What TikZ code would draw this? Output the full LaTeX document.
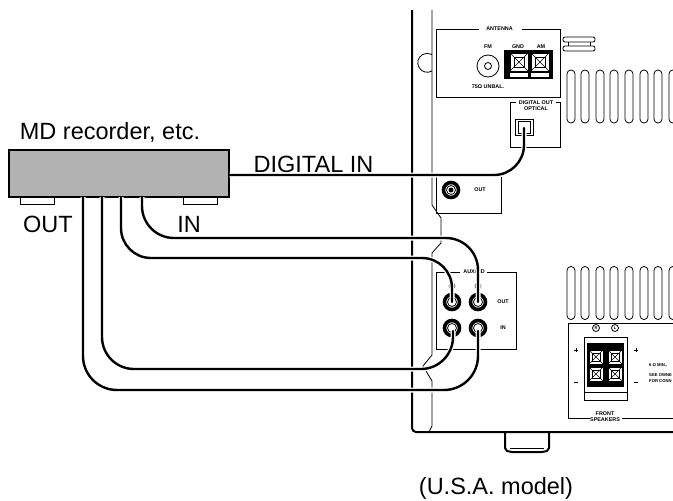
\documentclass[tikz,border=0pt]{standalone}
\usepackage{fontspec}
\setmainfont{Liberation Sans}
\tikzset{
	biglabel/.style={font=\fontsize{23.5}{26}\selectfont,inner sep=0pt,anchor=base},
	tinylabel/.style={font=\fontsize{5.4}{6}\selectfont\bfseries,inner sep=0pt,align=center},
	panel/.style={line width=0.8pt},
	cable/.style={line width=2.4pt,rounded corners=#1,line cap=round,
			preaction={draw=white,line width=5pt}},
	jack/.style={circle,draw=black,line width=3.6pt,fill=white,minimum size=15pt,inner sep=0pt},
	jackring/.style={circle,draw=black,line width=0.8pt,fill=white,minimum size=9pt,inner sep=0pt},
	slot/.style={draw,line width=0.8pt,rounded corners=3.9pt,minimum width=8pt,minimum height=53pt,inner sep=0pt},
	postbox/.style={draw=black,line width=0.8pt,fill=white,minimum size=#1,inner sep=0pt}
}
\begin{document}
\begin{tikzpicture}[x=1pt,y=-1pt]
	\useasboundingbox (0,0) rectangle (673,501);
	% chassis
	\draw[line width=2pt,rounded corners=4pt] (412,10)--(412,432)--(673,432);
	\draw[panel] (432,10)--(432,71) arc [start angle=60,end angle=300,radius=9.5]--(432,205)--(441,218)--(441,243)--(432,253)--(432,355)--(423,366)--(432,381)--(432,426)--(429,432);
	% foot
	\draw[line width=2pt,rounded corners=2pt] (505,432)--(505,450)--(510,452)--(544,452)--(549,450)--(549,432);
	\draw[panel] (510,448)--(544,448);
	% antenna panel
	\draw[panel] (479,29)--(436,29)--(436,97)--(560,97)--(560,29)--(522,29);
	\node[tinylabel] (antenna) at (499.5,29) {ANTENNA};
	\node[tinylabel] (fm) at (488,47) {FM};
	\node[tinylabel] (gnd) at (518,47) {GND};
	\node[tinylabel] (am) at (541,47) {AM};
	\node[tinylabel] (unbal) at (488,87) {75Ω UNBAL.};
	\node[circle,draw,line width=0.8pt,minimum size=22pt,inner sep=0pt] (fmjack) at (488,66) {};
	\node[circle,draw,line width=0.8pt,minimum size=7pt,inner sep=0pt] at (fmjack) {};
	\fill (504,50) rectangle (553,79);
	\foreach \x in {519,540}{
		\node[postbox=18pt] (ant\x) at (\x,62) {};
		\node[postbox=10pt] at (ant\x) {};
		\draw[line width=0.5pt] (ant\x.north west)--(ant\x.south east) (ant\x.north east)--(ant\x.south west);
		\fill[white] (\x-9,73) rectangle (\x+9,77);
	}
	% handle
	\draw[panel,rounded corners=2pt,fill=white] (563,37) rectangle (595,42);
	\draw[panel,rounded corners=2pt,fill=white] (563,46) rectangle (595,51);
	\draw[panel] (568,42)--(568,46) (590,42)--(590,46);
	% vents
	\foreach \x in {571,585,600,614,629,644,658,673}{
		\node[slot] at (\x,96.5) {};
		\node[slot] at (\x,293) {};
	}
	% digital out panel
	\draw[panel] (516,102)--(510,102)--(510,147)--(560,147)--(560,102)--(556,102);
	\node[tinylabel] (digout) at (536,106) {DIGITAL OUT\\OPTICAL};
	\node[postbox=16pt,minimum width=18pt] (optical) at (524,127) {};
	\node[postbox=12pt] at (optical) {};
	% out panel
	\draw[panel] (436,175)--(436,213)--(501,213)--(501,177);
	\node[jack] (recout) at (451,190) {};
	\node[jackring] at (recout) {};
	\fill (recout) circle (2.5);
	\node[tinylabel] at (480,190) {OUT};
	% aux panel
	\draw[panel] (460,272)--(436,272)--(436,349)--(516,349)--(516,272)--(487,272);
	\node[tinylabel] (auxmd) at (474,272) {AUX/MD};
	\node[tinylabel] at (503,302) {OUT};
	\node[tinylabel] at (503,328) {IN};
	\foreach \x in {452,478}{
		\node[circle,draw,line width=0.6pt,minimum size=6pt,inner sep=0pt] at (\x,286) {};
	}
	\node[jack] (outL) at (452,302) {};
	\node[jack] (outR) at (478,302) {};
	\node[jack] (inL) at (452,328) {};
	\node[jack] (inR) at (478,328) {};
	\foreach \j in {outL,outR,inL,inR}{
		\node[jackring] at (\j) {};
	}
	% speaker panel
	\draw[panel] (590,418)--(568,418)--(568,323)--(673,323) (622,418)--(673,418);
	\node[tinylabel] (speakers) at (605,417) {FRONT\\SPEAKERS};
	\node[circle,draw,line width=0.8pt,minimum size=7pt,inner sep=0pt,font=\fontsize{4}{4}\selectfont\bfseries] (chR) at (596,328) {R};
	\node[circle,draw,line width=0.8pt,minimum size=7pt,inner sep=0pt,font=\fontsize{4}{4}\selectfont\bfseries] (chL) at (615,328) {L};
	\draw[panel] (584,337) rectangle (627,400);
	\fill (587,343) rectangle (624,387);
	\draw[panel] (584,392)--(627,392);
	\foreach \x in {596,615}{
		\foreach \y in {357,374}{
			\node[postbox=14pt] (spk) at (\x,\y) {};
			\node[postbox=8pt] at (spk) {};
			\draw[line width=0.5pt] (spk.north west)--(spk.south east) (spk.north east)--(spk.south west);
		}
	}
	\draw[panel] (574,350)--(578,350) (576,348)--(576,352) (634,350)--(638,350) (636,348)--(636,352);
	\draw[panel] (574,382)--(578,382) (634,382)--(638,382);
	\node[tinylabel,font=\fontsize{4.2}{6}\selectfont\bfseries,anchor=west] at (649,365) {6 Ω MIN.,};
	\node[tinylabel,font=\fontsize{4.2}{6}\selectfont\bfseries,anchor=west,align=left] at (649,378) {SEE OWNE\\FOR CONN};
	% recorder
	\node[draw,line width=0.8pt,fill=white,minimum width=34pt,minimum height=8pt,inner sep=0pt] (footL) at (37,200) {};
	\node[draw,line width=0.8pt,fill=white,minimum width=34pt,minimum height=8pt,inner sep=0pt] (footR) at (200,200) {};
	\node[draw,line width=1.4pt,fill=black!30,minimum width=220pt,minimum height=47pt,inner sep=0pt] (recorder) at (119,173.5) {};
	\node[biglabel] (mdlabel) at (110,139) {MD recorder, etc.};
	\node[biglabel] (digin) at (313.5,172) {DIGITAL IN};
	\node[biglabel] (outlabel) at (48,232) {OUT};
	\node[biglabel] (inlabel) at (189,232) {IN};
	\node[biglabel] (model) at (496,494) {(U.S.A. model)};
	% cables
	\coordinate (plugA) at (83,197);
	\coordinate (plugB) at (102,197);
	\coordinate (plugC) at (121,197);
	\coordinate (plugD) at (142,197);
	\draw[cable=30pt] (recorder.east |- 0,175)--(524,175)--(524,128);
	\draw[cable=32pt] (plugD)--(142,238)--(478,238)--(outR.center);
	\draw[cable=30pt] (plugC)--(121,258)--(452,258)--(outL.center);
	\draw[cable=32pt] (plugB)--(102,369)--(453,369)--(453,331);
	\draw[cable=34pt] (plugA)--(83,390)--(478,390)--(478,331);
\end{tikzpicture}
\end{document}
